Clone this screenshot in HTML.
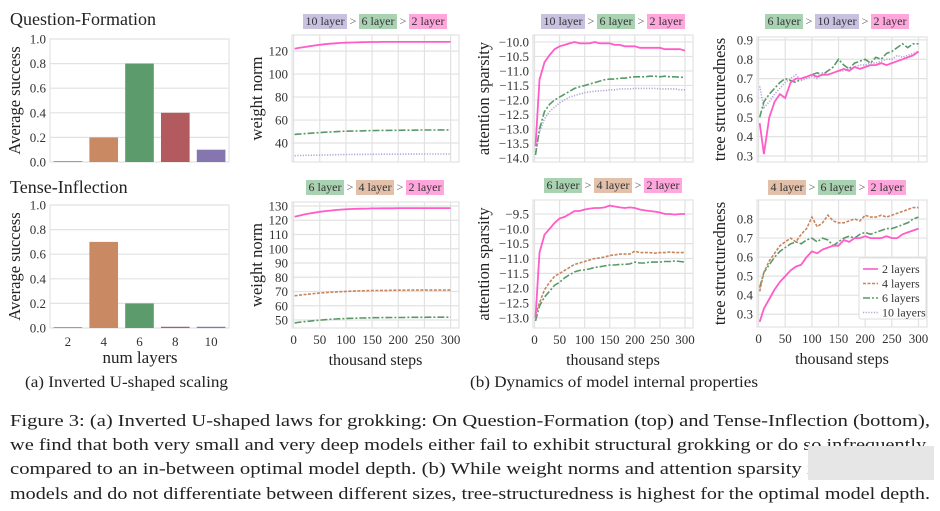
<!DOCTYPE html>
<html><head><meta charset="utf-8"><style>
body{margin:0;background:#fff}
svg{display:block;font-family:"Liberation Serif","Times New Roman",serif}
</style></head><body>
<svg id="fig" width="940" height="511" viewBox="0 0 940 511" font-family="Liberation Serif, Times New Roman, serif">
<text x="10" y="25" font-size="18" fill="#222">Question-Formation</text>
<text x="10" y="193" font-size="18" fill="#222">Tense-Inflection</text>
<text x="140" y="363" font-size="17" fill="#222" text-anchor="middle">num layers</text>
<text x="25" y="387" font-size="16" fill="#222" textLength="203" lengthAdjust="spacingAndGlyphs">(a) Inverted U-shaped scaling</text>
<text x="470" y="387" font-size="16" fill="#222" textLength="288" lengthAdjust="spacingAndGlyphs">(b) Dynamics of model internal properties</text>
<g font-size="16.5" fill="#222">
<text x="10" y="426" textLength="920" lengthAdjust="spacingAndGlyphs">Figure 3: (a) Inverted U-shaped laws for grokking: On Question-Formation (top) and Tense-Inflection (bottom),</text>
<text x="10" y="450" textLength="920" lengthAdjust="spacingAndGlyphs">we find that both very small and very deep models either fail to exhibit structural grokking or do so infrequently,</text>
<text x="10" y="474" textLength="920" lengthAdjust="spacingAndGlyphs">compared to an in-between optimal model depth. (b) While weight norms and attention sparsity increase for all</text>
<text x="10" y="499" textLength="920" lengthAdjust="spacingAndGlyphs">models and do not differentiate between different sizes, tree-structuredness is highest for the optimal model depth.</text>
</g>
<rect x="808" y="446" width="126" height="34" fill="#e6e6e6"/>
</svg>
<script>
const layerCats=[2,4,6,8,10];
const qfSuccess=[0.0,0.2,0.8,0.4,0.1];
const tiSuccess=[0.0,0.7,0.2,0.01,0.01];
const steps=[2,10,20,30,40,50,60,70,80,90,100,110,120,130,140,150,160,170,180,190,200,210,220,230,240,250,260,270,280,290,300];
const wnQF2=[122,122.8,123.5,124.2,124.9,125.5,126,126.4,126.8,127.1,127.3,127.5,127.6,127.7,127.8,127.9,127.9,128,128,128,128,128,128,128,128,128,128,128,128,128,128];
const wnQF6=[47.5,47.8,48.1,48.5,48.8,49.1,49.4,49.7,49.9,50.1,50.3,50.4,50.5,50.6,50.7,50.8,50.9,51,51,51.1,51.1,51.2,51.2,51.2,51.3,51.3,51.3,51.3,51.4,51.4,51.4];
const wnQF10=[29,29.1,29.2,29.3,29.4,29.5,29.6,29.7,29.8,29.9,30,30,30.1,30.1,30.2,30.2,30.2,30.3,30.3,30.3,30.3,30.4,30.4,30.4,30.4,30.5,30.5,30.5,30.5,30.5,30.5];
const wnTI2=[122.5,123.2,124,124.7,125.3,125.9,126.4,126.8,127.2,127.5,127.7,127.9,128,128.1,128.2,128.3,128.3,128.4,128.4,128.4,128.5,128.5,128.5,128.5,128.5,128.5,128.5,128.5,128.5,128.5,128.5];
const wnTI4=[67,67.4,67.8,68.2,68.6,68.9,69.2,69.5,69.7,69.9,70.1,70.2,70.4,70.5,70.6,70.7,70.7,70.8,70.8,70.9,70.9,70.9,71,71,71,71,71,71,71,71,71];
const wnTI6=[48,48.4,48.8,49.2,49.6,49.9,50.2,50.5,50.7,50.9,51.1,51.2,51.3,51.4,51.5,51.6,51.6,51.7,51.7,51.8,51.8,51.8,51.9,51.9,51.9,51.9,52,52,52,52,52];
const asQF2=[-13.6,-11.3,-10.7,-10.45,-10.25,-10.15,-10.1,-10.05,-10.0,-10.05,-10.05,-10.05,-10.0,-10.05,-10.05,-10.05,-10.1,-10.1,-10.15,-10.15,-10.15,-10.2,-10.2,-10.2,-10.2,-10.2,-10.25,-10.25,-10.25,-10.25,-10.3];
const asQF6=[-13.9,-13.0,-12.4,-12.15,-12.0,-11.9,-11.8,-11.7,-11.6,-11.55,-11.5,-11.45,-11.4,-11.35,-11.3,-11.28,-11.28,-11.25,-11.25,-11.22,-11.2,-11.2,-11.2,-11.18,-11.18,-11.2,-11.18,-11.2,-11.2,-11.22,-11.22];
const asQF10=[-13.8,-13.1,-12.65,-12.4,-12.25,-12.1,-12.0,-11.9,-11.85,-11.8,-11.75,-11.72,-11.7,-11.68,-11.68,-11.65,-11.65,-11.62,-11.62,-11.62,-11.6,-11.6,-11.6,-11.6,-11.6,-11.62,-11.62,-11.62,-11.62,-11.65,-11.65];
const asTI2=[-13.0,-10.8,-10.2,-10.0,-9.8,-9.65,-9.6,-9.5,-9.4,-9.4,-9.35,-9.32,-9.3,-9.3,-9.28,-9.22,-9.25,-9.28,-9.3,-9.28,-9.3,-9.35,-9.38,-9.4,-9.42,-9.45,-9.5,-9.5,-9.52,-9.5,-9.5];
const asTI4=[-12.9,-12.5,-12.05,-11.8,-11.6,-11.5,-11.4,-11.3,-11.2,-11.15,-11.1,-11.05,-11.0,-10.98,-10.95,-10.9,-10.88,-10.85,-10.85,-10.85,-10.75,-10.8,-10.8,-10.8,-10.82,-10.8,-10.8,-10.78,-10.8,-10.8,-10.8];
const asTI6=[-13.1,-12.6,-12.3,-12.1,-11.9,-11.8,-11.65,-11.55,-11.45,-11.4,-11.38,-11.35,-11.3,-11.28,-11.25,-11.22,-11.22,-11.2,-11.2,-11.18,-11.12,-11.15,-11.15,-11.12,-11.12,-11.12,-11.1,-11.1,-11.08,-11.1,-11.12];
const tsQF2=[0.47,0.31,0.5,0.58,0.62,0.6,0.68,0.7,0.7,0.71,0.72,0.71,0.72,0.72,0.73,0.74,0.75,0.74,0.76,0.75,0.76,0.77,0.77,0.78,0.77,0.78,0.79,0.8,0.81,0.82,0.84];
const tsQF6=[0.5,0.58,0.62,0.65,0.68,0.7,0.69,0.68,0.7,0.71,0.72,0.73,0.72,0.74,0.76,0.8,0.77,0.75,0.78,0.79,0.8,0.78,0.81,0.8,0.83,0.84,0.86,0.88,0.86,0.88,0.88];
const tsQF10=[0.66,0.55,0.58,0.62,0.65,0.68,0.7,0.72,0.69,0.7,0.71,0.7,0.73,0.72,0.73,0.74,0.74,0.75,0.76,0.77,0.77,0.78,0.78,0.79,0.8,0.8,0.82,0.81,0.82,0.83,0.84];
const tsTI2=[0.26,0.33,0.38,0.43,0.47,0.5,0.53,0.55,0.56,0.6,0.63,0.62,0.64,0.65,0.66,0.66,0.69,0.68,0.7,0.7,0.71,0.7,0.7,0.7,0.71,0.7,0.7,0.72,0.73,0.74,0.75];
const tsTI4=[0.42,0.52,0.58,0.62,0.66,0.68,0.7,0.68,0.72,0.75,0.81,0.76,0.78,0.82,0.79,0.78,0.78,0.79,0.8,0.79,0.82,0.81,0.81,0.82,0.81,0.82,0.83,0.84,0.85,0.86,0.86];
const tsTI6=[0.44,0.52,0.56,0.6,0.63,0.65,0.67,0.68,0.67,0.69,0.7,0.68,0.7,0.69,0.66,0.68,0.7,0.71,0.7,0.72,0.73,0.72,0.73,0.74,0.75,0.75,0.76,0.77,0.78,0.8,0.81];
const xTicks=[0,50,100,150,200,250,300];
const barTicks=[0,0.2,0.4,0.6,0.8,1.0];
const wnQFTicks=[40,60,80,100,120];
const wnTITicks=[50,60,70,80,90,100,110,120,130];
const asQFTicks=[-14,-13.5,-13,-12.5,-12,-11.5,-11,-10.5,-10];
const asTITicks=[-13,-12.5,-12,-11.5,-11,-10.5,-10,-9.5];
const tsQFTicks=[0.3,0.4,0.5,0.6,0.7,0.8,0.9];
const tsTITicks=[0.3,0.4,0.5,0.6,0.7,0.8];

const NS='http://www.w3.org/2000/svg';
const svg=document.getElementById('fig');
function mk(tag,attrs,parent){const e=document.createElementNS(NS,tag);for(const k in attrs)e.setAttribute(k,attrs[k]);(parent||svg).appendChild(e);return e;}
const COL={2:'#f965c8',4:'#c98a63',6:'#5c9c6c',8:'#b35a5e',10:'#8676b0'};
const LCOL={2:'#ff5cc8',4:'#c8855d',6:'#589a67',10:'#b0a6d6'};
const DASH={2:'',4:'3,1.5',6:'7,2,2,2',10:'1.2,1.5'};
const fmt=(v,d)=>v.toFixed(d).replace('-','\u2212');

function frame(name){
  const g=mk('g',{});
  
  
  return g;
}
function ylabel(g,text,x,cy,name){
  const t=mk('text',{x:x,y:cy,'font-size':16.5,fill:'#222','text-anchor':'middle',transform:`rotate(-90 ${x} ${cy})`},g);
  
  
  t.textContent=text;
}
function barChart(name,vals,x0,x1,y0,y1,showX){
  const g=frame(name);
  const sy=v=>y1-(v/1.0)*(y1-y0);
  mk('rect',{x:x0,y:y0,width:x1-x0,height:y1-y0,fill:'none',stroke:'#ddd'},g);
  barTicks.forEach(t=>{
    mk('line',{x1:x0,x2:x1,y1:sy(t),y2:sy(t),stroke:'#e2e2e2','stroke-width':1.2},g);
    const tx=mk('text',{x:x0-4,y:sy(t)+4.5,'font-size':13,fill:'#333','text-anchor':'end'},g);
    
    
    tx.textContent=t.toFixed(1);
  });
  const slot=(x1-x0)/layerCats.length;
  layerCats.forEach((c,i)=>{
    const cx=x0+slot*(i+0.5),h=Math.max(vals[i],0.008);
    const r=mk('rect',{x:cx-slot*0.4,y:sy(h),width:slot*0.8,height:y1-sy(h),fill:COL[c]},g);
    
    
    if(showX){
      const tx=mk('text',{x:cx,y:y1+18,'font-size':13,fill:'#333','text-anchor':'middle'},g);
      
      
      tx.textContent=c;
    }
  });
  ylabel(g,'Average success',x0-30,(y0+y1)/2,'y-axis-title');
}
function lineChart(name,series,x0,x1,y0,y1,ymin,ymax,yt,dec,showX,ytitle){
  const g=frame(name);
  const xmin=-3,xmax=316;
  const sx=v=>x0+(v-xmin)/(xmax-xmin)*(x1-x0);
  const sy=v=>y1-(v-ymin)/(ymax-ymin)*(y1-y0);
  mk('rect',{x:x0,y:y0,width:x1-x0,height:y1-y0,fill:'none',stroke:'#ddd'},g);
  xTicks.forEach(t=>{
    mk('line',{x1:sx(t),x2:sx(t),y1:y0,y2:y1,stroke:'#e2e2e2','stroke-width':1.2},g);
    if(showX){
      const tx=mk('text',{x:sx(t),y:y1+16,'font-size':13,fill:'#333','text-anchor':'middle'},g);
      
      
      tx.textContent=t;
    }
  });
  yt.forEach(t=>{
    mk('line',{x1:x0,x2:x1,y1:sy(t),y2:sy(t),stroke:'#e2e2e2','stroke-width':1.2},g);
    const tx=mk('text',{x:x0-4,y:sy(t)+4.5,'font-size':13,fill:'#333','text-anchor':'end'},g);
    
    
    tx.textContent=fmt(t,dec);
  });
  series.forEach(s=>{
    const d=s.v.map((v,i)=>(i?'L':'M')+sx(steps[i]).toFixed(1)+','+sy(v).toFixed(1)).join('');
    const p=mk('path',{d:d,fill:'none',stroke:LCOL[s.k],'stroke-width':s.k==2?1.8:1.6,'stroke-dasharray':DASH[s.k]},g);
    
    
  });
  if(showX){
    const tx=mk('text',{x:(x0+x1)/2,y:y1+37,'font-size':16,fill:'#222','text-anchor':'middle'},g);
    
    
    tx.textContent='thousand steps';
  }
  ylabel(g,ytitle,x0-(dec===0?30:(ytitle==='attention sparsity'?44:32)),(y0+y1)/2,'y-axis-title');
}
function ranking(name,cx,y,order){
  const g=frame(name);
  const bg={2:'#ffa6dc',4:'#e3c0aa',6:'#a9d2b2',10:'#c8c1df'};
  const parts=[];let w=0;
  order.forEach((k,i)=>{const tw=k>=10?44:38;parts.push({k,tw});w+=tw+(i<order.length-1?12:0);});
  let x=cx-w/2;
  parts.forEach((p,i)=>{
    mk('rect',{x:x,y:y-11,width:p.tw,height:15,fill:bg[p.k]},g);
    const t=mk('text',{x:x+p.tw/2,y:y,'font-size':12,fill:'#333','text-anchor':'middle'},g);
    
    
    t.textContent=p.k+' layer';
    x+=p.tw;
    if(i<parts.length-1){const gt=mk('text',{x:x+6,y:y,'font-size':12,fill:'#555','text-anchor':'middle'},g);gt.textContent='>';x+=12;}
  });
}
barChart('bar-chart-question-formation',qfSuccess,50,229,39,162,false);
barChart('bar-chart-tense-inflection',tiSuccess,50,229,205,328,true);
lineChart('weight-norm-qf',[{k:10,v:wnQF10},{k:6,v:wnQF6},{k:2,v:wnQF2}],292,459,35,162,23.5,134,wnQFTicks,0,false,'weight norm');
lineChart('weight-norm-ti',[{k:6,v:wnTI6},{k:4,v:wnTI4},{k:2,v:wnTI2}],292,459,202,328,44.4,132.8,wnTITicks,0,true,'weight norm');
lineChart('attention-sparsity-qf',[{k:10,v:asQF10},{k:6,v:asQF6},{k:2,v:asQF2}],533,693,35,162,-14.14,-9.76,asQFTicks,1,false,'attention sparsity');
lineChart('attention-sparsity-ti',[{k:6,v:asTI6},{k:4,v:asTI4},{k:2,v:asTI2}],533,693,200,328,-13.34,-9.03,asTITicks,1,true,'attention sparsity');
lineChart('tree-structuredness-qf',[{k:10,v:tsQF10},{k:6,v:tsQF6},{k:2,v:tsQF2}],757,927,37,162,0.269,0.915,tsQFTicks,1,false,'tree structuredness');
lineChart('tree-structuredness-ti',[{k:6,v:tsTI6},{k:4,v:tsTI4},{k:2,v:tsTI2}],757,927,200,327,0.233,0.9,tsTITicks,1,true,'tree structuredness');
ranking('ranking-weight-norm-qf',375,25,[10,6,2]);
ranking('ranking-attention-qf',613,25,[10,6,2]);
ranking('ranking-tree-qf',837,25,[6,10,2]);
ranking('ranking-weight-norm-ti',375,191,[6,4,2]);
ranking('ranking-attention-ti',613,189,[6,4,2]);
ranking('ranking-tree-ti',837,191,[4,6,2]);
const lg=mk('g',{});


mk('rect',{x:859,y:258,width:67,height:61,fill:'#fff',stroke:'#ddd',rx:2},lg);
[2,4,6,10].forEach((k,i)=>{
  const y=269+i*14.5;
  mk('line',{x1:863,x2:878,y1:y,y2:y,stroke:LCOL[k],'stroke-width':1.6,'stroke-dasharray':DASH[k]},lg);
  const t=mk('text',{x:882,y:y+4,'font-size':12,fill:'#333'},lg);
  
  
  t.textContent=k+' layers';
});
</script>
</body></html>
